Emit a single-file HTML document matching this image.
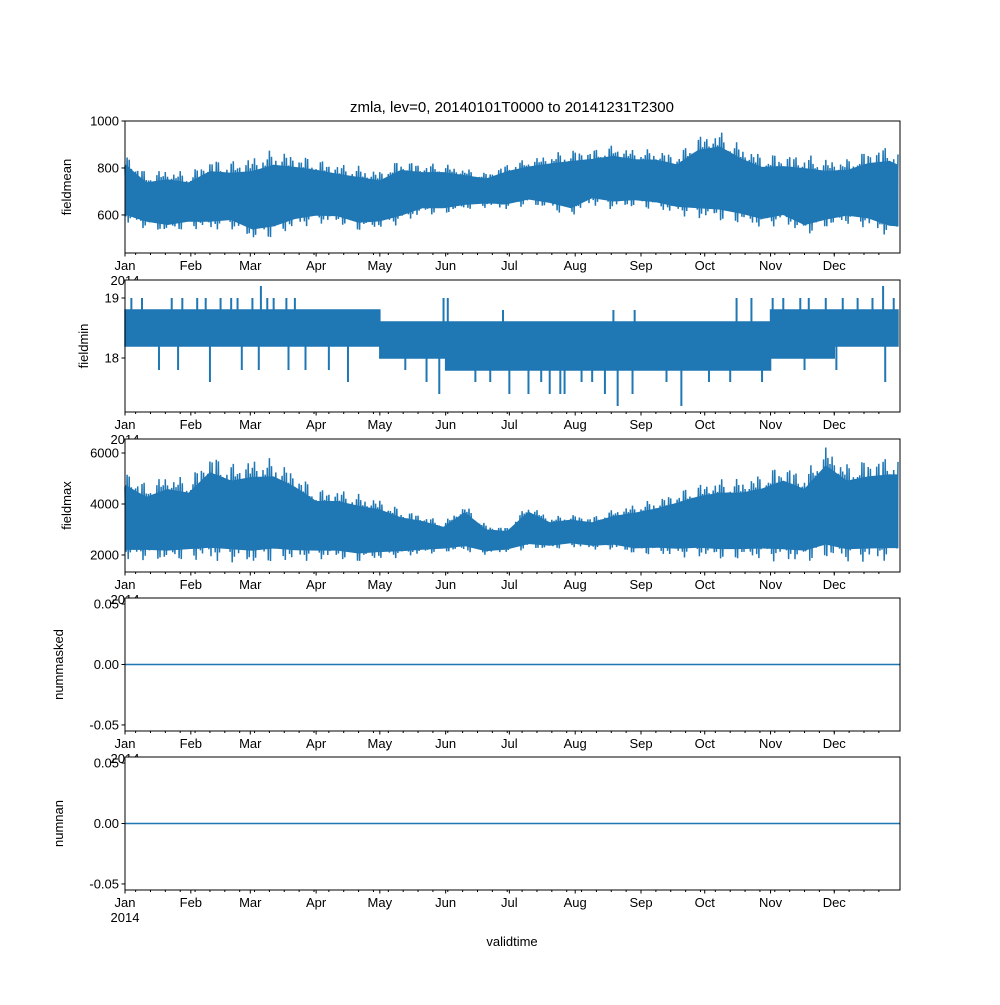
<!DOCTYPE html>
<html><head><meta charset="utf-8"><style>
html,body{margin:0;padding:0;background:#fff}
svg text{font-family:"Liberation Sans","DejaVu Sans",sans-serif;font-size:13px;fill:#000}
</style></head><body>
<svg id="chart" width="1000" height="1000" xmlns="http://www.w3.org/2000/svg">
<rect width="1000" height="1000" fill="#fff"/>
<text x="512" y="112" text-anchor="middle" style="font-size:15px">zmla, lev=0, 20140101T0000 to 20141231T2300</text>
<g id="plots"></g>
<text x="512" y="946" text-anchor="middle">validtime</text>
</svg>
<script>
const sampleDays = [0,10,20,30,40,50,60,70,80,90,100,110,120,130,140,150,160,170,180,190,200,210,220,230,240,250,260,270,280,290,300,310,320,330,340,350,360,364];
const meanHi = [870,780,800,780,840,830,850,880,860,840,820,810,790,840,820,820,800,780,820,840,860,880,880,900,880,880,860,940,960,900,860,860,860,840,840,880,900,880];
const meanLo = [560,540,520,540,530,540,490,500,540,560,560,530,540,560,600,600,620,630,620,640,620,590,640,620,630,620,600,580,570,560,540,560,510,540,560,540,500,500];
const maxHi = [5400,4800,5200,5000,6000,5600,5800,5800,5300,4600,4600,4400,4200,3800,3600,3300,4000,3200,3100,4000,3500,3600,3500,3800,4000,4200,4500,4800,5000,5000,5200,5600,5200,6300,5600,5800,5900,5900];
const maxLo = [1700,1800,1700,1800,1700,1700,1600,1700,1700,1800,1800,1700,1800,1900,2000,2100,2100,2000,2100,2200,2200,2300,2200,2200,2000,2000,1900,1900,1800,1800,1800,1700,1700,1800,1700,1700,1700,1700];
const monthStarts = [0,31,59,90,120,151,181,212,243,273,304,334,364];
const minCoreHi = [18.8,18.8,18.8,18.8,18.6,18.6,18.6,18.6,18.6,18.6,18.8,18.8,18.8];
const minCoreLo = [18.2,18.2,18.2,18.2,18.0,17.8,17.8,17.8,17.8,17.8,18.0,18.2,18.2];
const minSpikeDays = [3,8,22,27,34,38,45,50,53,60,64,67,70,76,80,150,152,178,230,240,288,295,305,310,318,322,330,338,345,352,357,362,
  16,25,40,55,63,77,85,96,105,132,142,148,165,172,181,190,196,200,205,207,215,220,226,232,239,255,262,275,285,300,320,335,358];
const minSpikeVals = [19.0,19.0,19.0,19.0,19.0,19.0,19.0,19.0,19.0,19.0,19.2,19.0,19.0,19.0,19.0,19.0,19.0,18.8,18.8,18.8,19.0,19.0,19.0,19.0,19.0,19.0,19.0,19.0,19.0,19.0,19.2,19.0,
  17.8,17.8,17.6,17.8,17.8,17.8,17.8,17.8,17.6,17.8,17.6,17.4,17.6,17.6,17.4,17.4,17.6,17.4,17.4,17.4,17.6,17.6,17.4,17.2,17.4,17.6,17.2,17.6,17.6,17.6,17.8,17.8,17.6];
const monthLabels = ["Jan","Feb","Mar","Apr","May","Jun","Jul","Aug","Sep","Oct","Nov","Dec"];
const zeroSeries = [0,0];

const NS="http://www.w3.org/2000/svg";
const X0=125,X1=900,DAYS=364.96;
const xs=d=>X0+(d/DAYS)*(X1-X0);
const g=document.getElementById('plots');
function el(t,a,p){const e=document.createElementNS(NS,t);for(const k in a)e.setAttribute(k,a[k]);(p||g).appendChild(e);return e;}
const C="#1f77b4";
const panels=[
 {name:"fieldmean",top:121,bot:253,vmin:438,vmax:1000,ticks:[600,800,1000],fmt:v=>String(v),lx:71},
 {name:"fieldmin",top:280,bot:412,vmin:17.1,vmax:19.3,ticks:[18,19],fmt:v=>String(v),lx:88},
 {name:"fieldmax",top:439,bot:572,vmin:1333,vmax:6549,ticks:[2000,4000,6000],fmt:v=>String(v),lx:71},
 {name:"nummasked",top:598,bot:731,vmin:-0.055,vmax:0.055,ticks:[-0.05,0,0.05],fmt:v=>v.toFixed(2),lx:63},
 {name:"numnan",top:757,bot:890,vmin:-0.055,vmax:0.055,ticks:[-0.05,0,0.05],fmt:v=>v.toFixed(2),lx:63}
];
function interp(arr,d){
 for(let k=0;k<sampleDays.length-1;k++){if(d<=sampleDays[k+1]){const t=(d-sampleDays[k])/(sampleDays[k+1]-sampleDays[k]);return arr[k]+(arr[k+1]-arr[k])*t;}}
 return arr[arr.length-1];
}
panels.forEach((p,i)=>{
 const ys=v=>p.bot-(v-p.vmin)/(p.vmax-p.vmin)*(p.bot-p.top);
 const pg=el('g',{});
 
 
 const bg=el('rect',{x:X0,y:p.top,width:X1-X0,height:p.bot-p.top,fill:'#fff'},pg);
 
 
 if(i===0||i===2){
  const hi=i===0?meanHi:maxHi, lo=i===0?meanLo:maxLo;
  let d='';
  for(let day=0;day<=364;day+=0.5){
   const h=interp(hi,day),l=interp(lo,day);
   const span=h-l;
   const up=(Math.floor(day*2)%2===0);
   const amp=Math.abs(Math.sin(day*0.9)*Math.cos(day*0.37));
   const v=up? l+span*(0.8+0.2*amp) : h-span*(0.8+0.2*amp);
   d+=(d?'L':'M')+xs(day).toFixed(1)+','+ys(v).toFixed(1);
  }
  const a=el('path',{d:d,fill:'none',stroke:C,'stroke-width':1.5},pg);
  
  
  let core='M'+sampleDays.map((s,k)=>xs(s)+','+ys(lo[k]+(hi[k]-lo[k])*0.82)).join('L');
  for(let k=sampleDays.length-1;k>=0;k--) core+='L'+xs(sampleDays[k])+','+ys(lo[k]+(hi[k]-lo[k])*0.14);
  const c=el('path',{d:core+'Z',fill:C,stroke:C,'stroke-width':1},pg);
  
  
 } else if(i===1){
  let d='';
  for(let k=0;k<12;k++){d+=(k?'L':'M')+xs(monthStarts[k])+','+ys(minCoreHi[k])+'L'+xs(monthStarts[k+1])+','+ys(minCoreHi[k]);}
  for(let k=11;k>=0;k--){d+='L'+xs(monthStarts[k+1])+','+ys(minCoreLo[k])+'L'+xs(monthStarts[k])+','+ys(minCoreLo[k]);}
  const a=el('path',{d:d+'Z',fill:C,stroke:C,'stroke-width':1.5},pg);
  
  
  minSpikeDays.forEach((sd,k)=>{
   const m=monthStarts.findIndex(s=>s>sd)-1;
   const base=minSpikeVals[k]>18.4?minCoreHi[Math.max(0,m)]:minCoreLo[Math.max(0,m)];
   const s=el('line',{x1:xs(sd),x2:xs(sd),y1:ys(base),y2:ys(minSpikeVals[k]),stroke:C,'stroke-width':2},pg);
   
   
  });
 } else {
  const l=el('line',{x1:X0,x2:X1,y1:ys(zeroSeries[0]),y2:ys(zeroSeries[1]),stroke:C,'stroke-width':1.5},pg);
  
  
 }
 const fr=el('rect',{x:X0,y:p.top,width:X1-X0,height:p.bot-p.top,fill:'none',stroke:'#000','stroke-width':1},pg);
 
 
 p.ticks.forEach(v=>{
  const y=ys(v);
  el('line',{x1:X0-3.5,x2:X0,y1:y,y2:y,stroke:'#000'},pg);
  const t=el('text',{x:X0-6,y:y+4.5,'text-anchor':'end'},pg);
  
  
  t.textContent=p.fmt(v);
 });
 const yl=el('text',{x:0,y:0,'text-anchor':'middle',transform:`translate(${p.lx},${(p.top+p.bot)/2}) rotate(-90)`},pg);
 
 
 yl.textContent=p.name;
 for(let d=5;d<362;d+=7) el('line',{x1:xs(d),x2:xs(d),y1:p.bot,y2:p.bot+2,stroke:'#000'},pg);
 for(let k=0;k<12;k++){
  const m=monthStarts[k];
  el('line',{x1:xs(m),x2:xs(m),y1:p.bot,y2:p.bot+3.5,stroke:'#000'},pg);
  const t=el('text',{x:xs(m),y:p.bot+17,'text-anchor':'middle'},pg);
  
  
  t.textContent=monthLabels[k];
 }
 const yr=el('text',{x:X0,y:p.bot+32,'text-anchor':'middle'},pg);
 
 
 yr.textContent='2014';
});
</script>
</body></html>
